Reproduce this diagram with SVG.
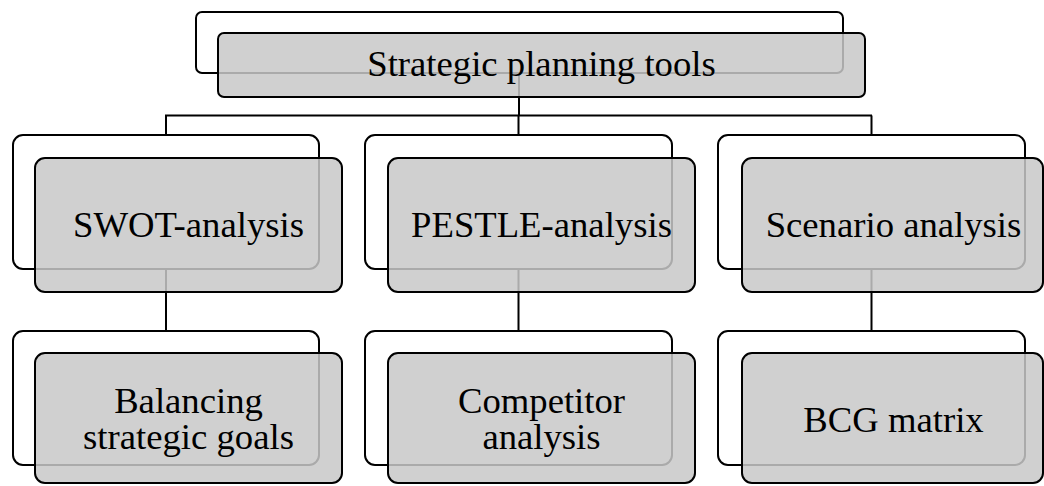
<svg xmlns="http://www.w3.org/2000/svg" width="1044" height="486" viewBox="0 0 1044 486">
<style>
.back{fill:#ffffff;stroke:#000000;stroke-width:2}
.front{fill:#c8c8c8;fill-opacity:0.85;stroke:#000000;stroke-width:2}
.conn{fill:none;stroke:#000000;stroke-width:2}
.t{font-family:"Liberation Serif","Times New Roman",serif;font-size:36.7px;fill:#000000;text-anchor:middle}
</style>
<rect x="0" y="0" width="1044" height="486" fill="#ffffff"/>
<g id="connectors">
<path class="conn" d="M519,73 V115.5 M165,115.5 H872 M166,115.5 V135 M518.5,115.5 V135 M871.5,115.5 V135"/>
<path class="conn" d="M166,269 V331 M518.5,269 V331 M871.5,269 V331"/>
</g>
<g id="root">
<rect class="back" x="196" y="12" width="647" height="61" rx="6"/>
<rect class="front" x="218" y="33" width="647" height="64" rx="6"/>
<text class="t" x="541.5" y="76">Strategic planning tools</text>
</g>
<g id="swot">
<rect class="back" x="13" y="135" width="306" height="134" rx="10"/>
<rect class="front" x="35" y="158" width="307" height="134" rx="10"/>
<text class="t" x="188.5" y="237">SWOT-analysis</text>
</g>
<g id="pestle">
<rect class="back" x="365" y="135" width="307" height="134" rx="10"/>
<rect class="front" x="388" y="158" width="307" height="134" rx="10"/>
<text class="t" x="541.5" y="237">PESTLE-analysis</text>
</g>
<g id="scenario">
<rect class="back" x="718" y="135" width="307" height="134" rx="10"/>
<rect class="front" x="742" y="158" width="301" height="134" rx="10"/>
<text class="t" x="893.5" y="237">Scenario analysis</text>
</g>
<g id="balancing">
<rect class="back" x="13" y="331" width="306" height="134" rx="10"/>
<rect class="front" x="35" y="353" width="307" height="130" rx="10"/>
<text class="t" x="188.5" y="413">Balancing</text>
<text class="t" x="188.5" y="449">strategic goals</text>
</g>
<g id="competitor">
<rect class="back" x="365" y="331" width="307" height="134" rx="10"/>
<rect class="front" x="388" y="353" width="307" height="130" rx="10"/>
<text class="t" x="541.5" y="413">Competitor</text>
<text class="t" x="541.5" y="449">analysis</text>
</g>
<g id="bcg">
<rect class="back" x="718" y="331" width="307" height="134" rx="10"/>
<rect class="front" x="742" y="353" width="301" height="130" rx="10"/>
<text class="t" x="893.5" y="432">BCG matrix</text>
</g>
</svg>
